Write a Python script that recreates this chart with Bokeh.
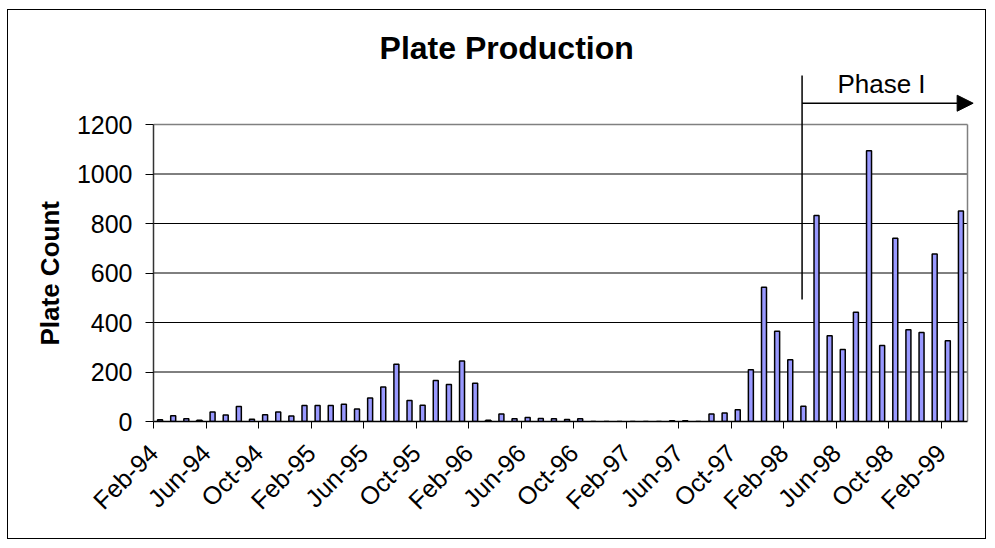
from math import pi
from bokeh.plotting import figure
from bokeh.models import (ColumnDataSource, FixedTicker, Range1d, Label, Arrow,
                          NormalHead, Title)
from bokeh.embed import file_html
from bokeh.resources import INLINE

# ---- data (monthly plate counts, Feb-94 .. Mar-99) ----
months = ["Feb-94", "Mar-94", "Apr-94", "May-94", "Jun-94", "Jul-94", "Aug-94", "Sep-94",
          "Oct-94", "Nov-94", "Dec-94", "Jan-95", "Feb-95", "Mar-95", "Apr-95", "May-95",
          "Jun-95", "Jul-95", "Aug-95", "Sep-95", "Oct-95", "Nov-95", "Dec-95", "Jan-96",
          "Feb-96", "Mar-96", "Apr-96", "May-96", "Jun-96", "Jul-96", "Aug-96", "Sep-96",
          "Oct-96", "Nov-96", "Dec-96", "Jan-97", "Feb-97", "Mar-97", "Apr-97", "May-97",
          "Jun-97", "Jul-97", "Aug-97", "Sep-97", "Oct-97", "Nov-97", "Dec-97", "Jan-98",
          "Feb-98", "Mar-98", "Apr-98", "May-98", "Jun-98", "Jul-98", "Aug-98", "Sep-98",
          "Oct-98", "Nov-98", "Dec-98", "Jan-99", "Feb-99", "Mar-99"]
plates = [7, 23, 11, 5, 38, 26, 61, 9, 27, 38, 22, 65, 65, 65, 70, 51,
          95, 139, 231, 85, 66, 166, 149, 244, 155, 5, 30, 11, 16, 12, 11, 8,
          11, 0, 0, 0, 0, 0, 0, 3, 3, 0, 30, 34, 47, 209, 542, 365,
          250, 62, 832, 346, 291, 441, 1094, 307, 740, 371, 360, 677, 326, 851]
label_every = 4
y_ticks = [0, 200, 400, 600, 800, 1000, 1200]
y_max = 1200

# annotation anchors (x in month-index units, y in plate-count units)
phase_x = 49.4            # Phase I start marker (at Mar-98)
phase_arrow_end = 62.43
phase_line_bottom = 493
phase_line_top = 1398
phase_arrow_y = 1286
phase_label_x, phase_label_y = 55.45, 1364
title_x, title_y = 26.9, 1508

FONT = "Liberation Sans"
W, H = 979, 530
FRAME_L, FRAME_R, FRAME_B = 145, 2, 119
n = len(plates)
px_per = 814 / n                       # plot-area width for the 62 months
x_end = (W - FRAME_L - FRAME_R) / px_per
px_per_val = 297 / y_max
y_end = (H - FRAME_B) / px_per_val

src = ColumnDataSource(dict(x=[i + 0.5 for i in range(n)], y=plates, m=months))

p = figure(width=W, height=H, output_backend="svg", toolbar_location=None,
           x_range=Range1d(0, x_end), y_range=Range1d(0, y_end),
           title_location=None,
           min_border_left=FRAME_L, min_border_right=FRAME_R, min_border_top=0,
           min_border_bottom=FRAME_B)
p.background_fill_color = "white"
p.border_fill_color = "white"
p.outline_line_color = None
p.grid.visible = False

# gridlines and plot-area border (limited to the plot area)
grid_vals = y_ticks[1:-1]
p.segment(x0=[0] * len(grid_vals), x1=[n] * len(grid_vals), y0=grid_vals, y1=grid_vals,
          line_color="black", line_width=1)
p.segment(x0=[0, n], y0=[y_max, 0], x1=[n, n], y1=[y_max, y_max],
          line_color="#808080", line_width=1.5)

p.vbar(x="x", top="y", width=0.38, bottom=0, source=src,
       fill_color="#9999FF", line_color="black", line_width=1.5)

# title
p.add_layout(Label(x=title_x, y=title_y, text="Plate Production", text_align="center",
                   text_baseline="alphabetic", text_font=FONT, text_font_size="32px",
                   text_font_style="bold", text_color="black"))

# Phase I annotation
p.segment(x0=[phase_x], y0=[phase_line_bottom], x1=[phase_x], y1=[phase_line_top],
          line_color="black", line_width=1.5)
p.add_layout(Arrow(x_start=phase_x, y_start=phase_arrow_y, x_end=phase_arrow_end,
                   y_end=phase_arrow_y,
                   end=NormalHead(size=16, fill_color="black", line_color="black",
                                  line_width=1),
                   line_color="black", line_width=1.6))
p.add_layout(Label(x=phase_label_x, y=phase_label_y, text="Phase I", text_align="center",
                   text_baseline="alphabetic", text_font=FONT, text_font_size="26px",
                   text_color="black"))

# axes
p.xaxis.ticker = FixedTicker(ticks=list(range(0, n, label_every)))
p.xaxis.major_label_overrides = {i: months[i] for i in range(0, n, label_every)}
p.xaxis.bounds = (0, n)
p.xaxis.major_label_orientation = pi / 4
p.xaxis.minor_tick_line_color = None
p.xaxis.major_tick_in = 0
p.xaxis.major_tick_out = 7
p.xaxis.major_label_standoff = 20
p.xaxis.major_label_text_font = FONT
p.xaxis.major_label_text_font_size = "25px"
p.xaxis.major_label_text_color = "black"
p.xaxis.axis_line_color = "black"
p.xaxis.axis_line_width = 1.5
p.xaxis.major_tick_line_color = "black"

p.yaxis.ticker = FixedTicker(ticks=y_ticks)
p.yaxis.bounds = (0, y_max)
p.yaxis.minor_tick_line_color = None
p.yaxis.major_tick_in = 0
p.yaxis.major_tick_out = 8
p.yaxis.major_label_standoff = 13
p.yaxis.major_label_text_font = FONT
p.yaxis.major_label_text_font_size = "25px"
p.yaxis.major_label_text_color = "black"
p.yaxis.axis_line_color = "#333333"
p.yaxis.axis_line_width = 1.5
p.yaxis.major_tick_line_color = "black"

# y-axis title, placed along the left side next to the value axis
p.add_layout(Title(text="Plate Count", align="left", offset=76, standoff=18,
                   vertical_align="bottom", text_font=FONT, text_font_size="26px",
                   text_font_style="bold", text_color="black"), "left")

p.styles = {"border": "1px solid black", "margin": "9px 0 0 7px",
            "background-color": "white"}

open("out.html", "w").write(file_html(p, INLINE))
